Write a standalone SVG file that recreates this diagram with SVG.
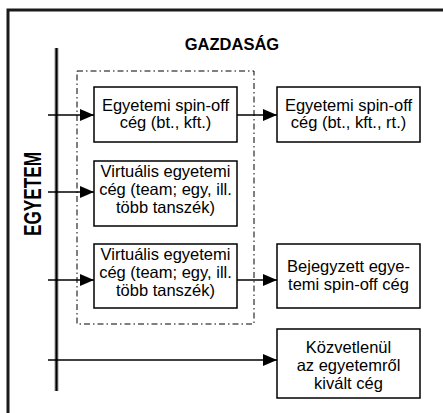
<svg xmlns="http://www.w3.org/2000/svg" width="443" height="413" viewBox="0 0 443 413">
<style>
.box{fill:#fff;stroke:#000;stroke-width:1.5}
.t{font-family:"Liberation Sans",Arial,sans-serif;font-size:16.5px;fill:#000;text-anchor:middle}
.title{font-family:"Liberation Sans",Arial,sans-serif;font-weight:bold;fill:#000;text-anchor:middle}
.ln{stroke:#000;stroke-width:1.5;fill:none}
</style>
<defs>
<marker id="ah" markerWidth="14" markerHeight="12" refX="14" refY="6" orient="auto" markerUnits="userSpaceOnUse">
<path d="M0,0 L14,6 L0,12 Z" fill="#000"/>
</marker>
</defs>
<rect x="0" y="0" width="443" height="413" fill="#fff"/>
<g id="frame">
<path d="M8,420 L8,10 L450,10" fill="none" stroke="#1a1a1a" stroke-width="3"/>
</g>
<g id="university-axis">
<line x1="56.5" y1="48" x2="56.5" y2="391" stroke="#999" stroke-width="4"/>
<line x1="56.5" y1="48" x2="56.5" y2="391" stroke="#000" stroke-width="2"/>
</g>
<g id="labels">
<text class="title" x="232" y="50" font-size="16.5">GAZDASÁG</text>
<text class="title" font-size="23" transform="translate(41,194) rotate(-90)" x="0" y="0" textLength="84" lengthAdjust="spacingAndGlyphs">EGYETEM</text>
</g>
<g id="group-box">
<rect x="77" y="71" width="177" height="253" fill="none" stroke="#000" stroke-width="1" stroke-dasharray="6,3,1.5,3"/>
</g>
<g id="connectors">
<line class="ln" x1="48" y1="115" x2="94" y2="115" marker-end="url(#ah)"/>
<line class="ln" x1="237" y1="115" x2="277" y2="115" marker-end="url(#ah)"/>
<line class="ln" x1="48" y1="192" x2="94" y2="192" marker-end="url(#ah)"/>
<line class="ln" x1="48" y1="280" x2="94" y2="280" marker-end="url(#ah)"/>
<line class="ln" x1="237" y1="280" x2="277" y2="280" marker-end="url(#ah)"/>
<line class="ln" x1="48" y1="360" x2="277" y2="360" marker-end="url(#ah)"/>
</g>
<g id="n1">
<rect class="box" x="94" y="87" width="143" height="55"/>
<text class="t" x="165.5" y="111">Egyetemi spin-off</text>
<text class="t" x="165.5" y="128">cég (bt., kft.)</text>
</g>
<g id="n2">
<rect class="box" x="277" y="87" width="143" height="55"/>
<text class="t" x="348.5" y="111">Egyetemi spin-off</text>
<text class="t" x="348.5" y="128">cég (bt., kft., rt.)</text>
</g>
<g id="n3">
<rect class="box" x="94" y="161" width="143" height="65"/>
<text class="t" x="165.5" y="177">Virtuális egyetemi</text>
<text class="t" x="165.5" y="195">cég (team; egy, ill.</text>
<text class="t" x="165.5" y="213">több tanszék)</text>
</g>
<g id="n4">
<rect class="box" x="94" y="244" width="143" height="64"/>
<text class="t" x="165.5" y="260">Virtuális egyetemi</text>
<text class="t" x="165.5" y="278">cég (team; egy, ill.</text>
<text class="t" x="165.5" y="296">több tanszék)</text>
</g>
<g id="n5">
<rect class="box" x="277" y="244" width="143" height="64"/>
<text class="t" x="348.5" y="272">Bejegyzett egye-</text>
<text class="t" x="348.5" y="290">temi spin-off cég</text>
</g>
<g id="n6">
<rect class="box" x="277" y="329" width="143" height="69"/>
<text class="t" x="348.5" y="353">Közvetlenül</text>
<text class="t" x="348.5" y="371">az egyetemről</text>
<text class="t" x="348.5" y="389">kivált cég</text>
</g>
</svg>
